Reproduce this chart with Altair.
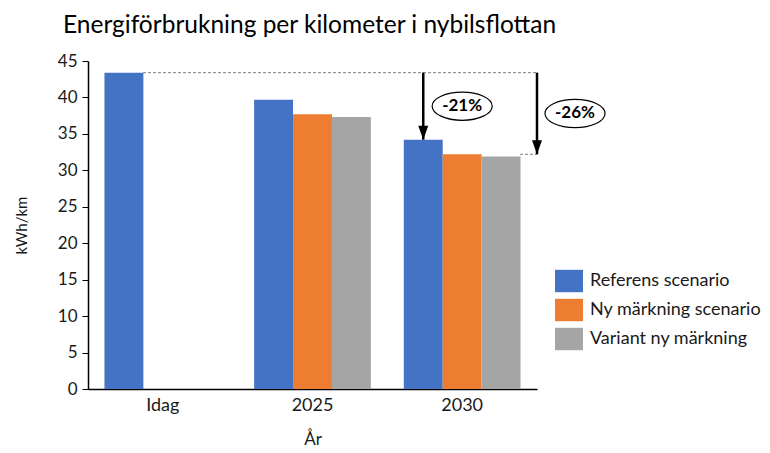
import altair as alt
import pandas as pd

# ---- data ----
categories = ["Idag", "2025", "2030"]
series = ["Referens scenario", "Ny märkning scenario", "Variant ny märkning"]
referens = [43.4, 39.7, 34.2]
ny_markning = [None, 37.7, 32.2]
variant = [None, 37.3, 31.9]
colors = ["#4472C4", "#ED7D31", "#A5A5A5"]
y_ticks = [0, 5, 10, 15, 20, 25, 30, 35, 40, 45]
pct_labels = ["-21%", "-26%"]

rows = []
for i, c in enumerate(categories):
    for s, vals in zip(series, [referens, ny_markning, variant]):
        if vals[i] is not None:
            rows.append({"cat": c, "serie": s, "value": vals[i]})
df = pd.DataFrame(rows)

# layout constants
W, H = 449, 328
FONT = "Lato"
TXT = "#1a1a1a"

x_scale = alt.Scale(domain=categories, paddingInner=0.22, paddingOuter=0.11)
y_scale = alt.Scale(domain=[0, 45], nice=False)

x_axis = alt.Axis(title="År", labelAngle=0, ticks=False, labelFontSize=18,
                  labelPadding=7, titlePadding=17, titleFontSize=17,
                  titleFontWeight="normal", domainColor="#000000", domainWidth=1.5)
y_axis = alt.Axis(title="kWh/km", values=y_ticks, tickCount=10, grid=False, tickSize=6,
                  labelOverlap=False, tickColor="#000000", domainColor="#000000",
                  domainWidth=1.5, labelFontSize=17, labelPadding=5, titleFontSize=15,
                  titleFontWeight="normal", titlePadding=28)


def Yq(f):
    return alt.Y(f, type="quantitative", scale=y_scale, axis=y_axis)


def Xn(f):
    return alt.X(f, type="nominal", scale=x_scale, sort=categories, axis=x_axis)


off_scale = alt.Scale(domain=series, paddingInner=0, paddingOuter=0)

bars = alt.Chart(df).mark_bar().encode(
    x=Xn("cat"),
    xOffset=alt.XOffset("serie:N", scale=off_scale, sort=series),
    y=Yq("value"),
    color=alt.Color("serie:N", scale=alt.Scale(domain=series, range=colors), sort=series,
                    legend=alt.Legend(title=None, orient="none", legendX=467, legendY=206,
                                      symbolType="M-1,-0.8L1,-0.8L1,0.8L-1,0.8Z",
                                      symbolSize=784, symbolStrokeWidth=0,
                                      symbolOpacity=1,
                                      labelFontSize=18, labelFont=FONT, labelColor=TXT,
                                      rowPadding=3, labelOffset=7, labelLimit=300)),
)

idag_val = referens[0]
ref_2030 = referens[2]
ny_2030 = ny_markning[2]

ann = pd.DataFrame({"top": [idag_val], "ref": [ref_2030], "ny": [ny_2030]})

# dashed guide lines
dash_top = alt.Chart(ann).mark_rule(strokeDash=[3, 2], color="#808080", strokeWidth=1).encode(
    y=Yq("top"), x=alt.value(55), x2=alt.value(W))
dash_low = alt.Chart(ann).mark_rule(strokeDash=[3, 2], color="#808080", strokeWidth=1).encode(
    y=Yq("ny"), x=alt.value(432), x2=alt.value(W))

# arrow 1: at 2030 Referens bar centre
arr1_df = pd.DataFrame({"cat": ["2030"], "serie": [series[0]], "top": [idag_val], "end": [ref_2030]})
arr1 = alt.Chart(arr1_df).mark_rule(color="#000000", strokeWidth=2.5).encode(
    x=Xn("cat"), xOffset=alt.XOffset("serie:N", scale=off_scale, sort=series),
    y=Yq("top"), y2="end:Q")
head1 = alt.Chart(arr1_df).mark_point(shape="M-1,-2.8L1,-2.8L0,0Z", filled=True, size=100,
                                      color="#000000", opacity=1).encode(
    x=Xn("cat"), xOffset=alt.XOffset("serie:N", scale=off_scale, sort=series), y=Yq("end"))

# arrow 2: at the right end of the plot
arr2 = alt.Chart(ann).mark_rule(color="#000000", strokeWidth=2.5).encode(
    x=alt.value(W), y=Yq("top"), y2="ny:Q")
head2 = alt.Chart(ann).mark_point(shape="M-1,-2.8L1,-2.8L0,0Z", filled=True, size=100,
                                  color="#000000", opacity=1).encode(
    x=alt.value(W), y=Yq("ny"))

# ellipse labels
lab1 = pd.DataFrame({"cat": ["2030"], "y": [38.8], "t": [pct_labels[0]]})
lab2 = pd.DataFrame({"y": [37.8], "t": [pct_labels[1]]})
ELL = "M-1,0A1,0.47 0 1,1 1,0A1,0.47 0 1,1 -1,0Z"
ell1 = alt.Chart(lab1).mark_point(shape=ELL, size=3600, filled=True, fill="white",
                                  stroke="#000000", strokeWidth=1.2, opacity=1).encode(
    x=Xn("cat"), y=Yq("y"))
txt1 = alt.Chart(lab1).mark_text(font=FONT, fontSize=17, fontWeight="bold", color="#000000").encode(
    x=Xn("cat"), y=Yq("y"), text="t:N")
ell2 = alt.Chart(lab2).mark_point(shape=ELL, size=3600, filled=True, fill="white",
                                  stroke="#000000", strokeWidth=1.2, opacity=1).encode(
    x=alt.value(487), y=Yq("y"))
txt2 = alt.Chart(lab2).mark_text(font=FONT, fontSize=17, fontWeight="bold", color="#000000").encode(
    x=alt.value(487), y=Yq("y"), text="t:N")

chart = alt.layer(bars, dash_top, dash_low, arr1, head1, arr2, head2, ell1, txt1, ell2, txt2).properties(
    width=W, height=H,
    title=alt.TitleParams("Energiförbrukning per kilometer i nybilsflottan", anchor="start",
                          frame="group", fontSize=24.5, font=FONT, fontWeight="normal",
                          color="#000000", dx=-25, offset=14),
    autosize=alt.AutoSizeParams(type="none"),
    padding={"left": 80, "top": 53, "right": 225, "bottom": 60},
).configure_view(stroke=None).configure_axis(
    labelFont=FONT, titleFont=FONT, labelColor=TXT, titleColor=TXT
)

chart.save("out.html", embed_options={"renderer": "svg", "actions": False})
